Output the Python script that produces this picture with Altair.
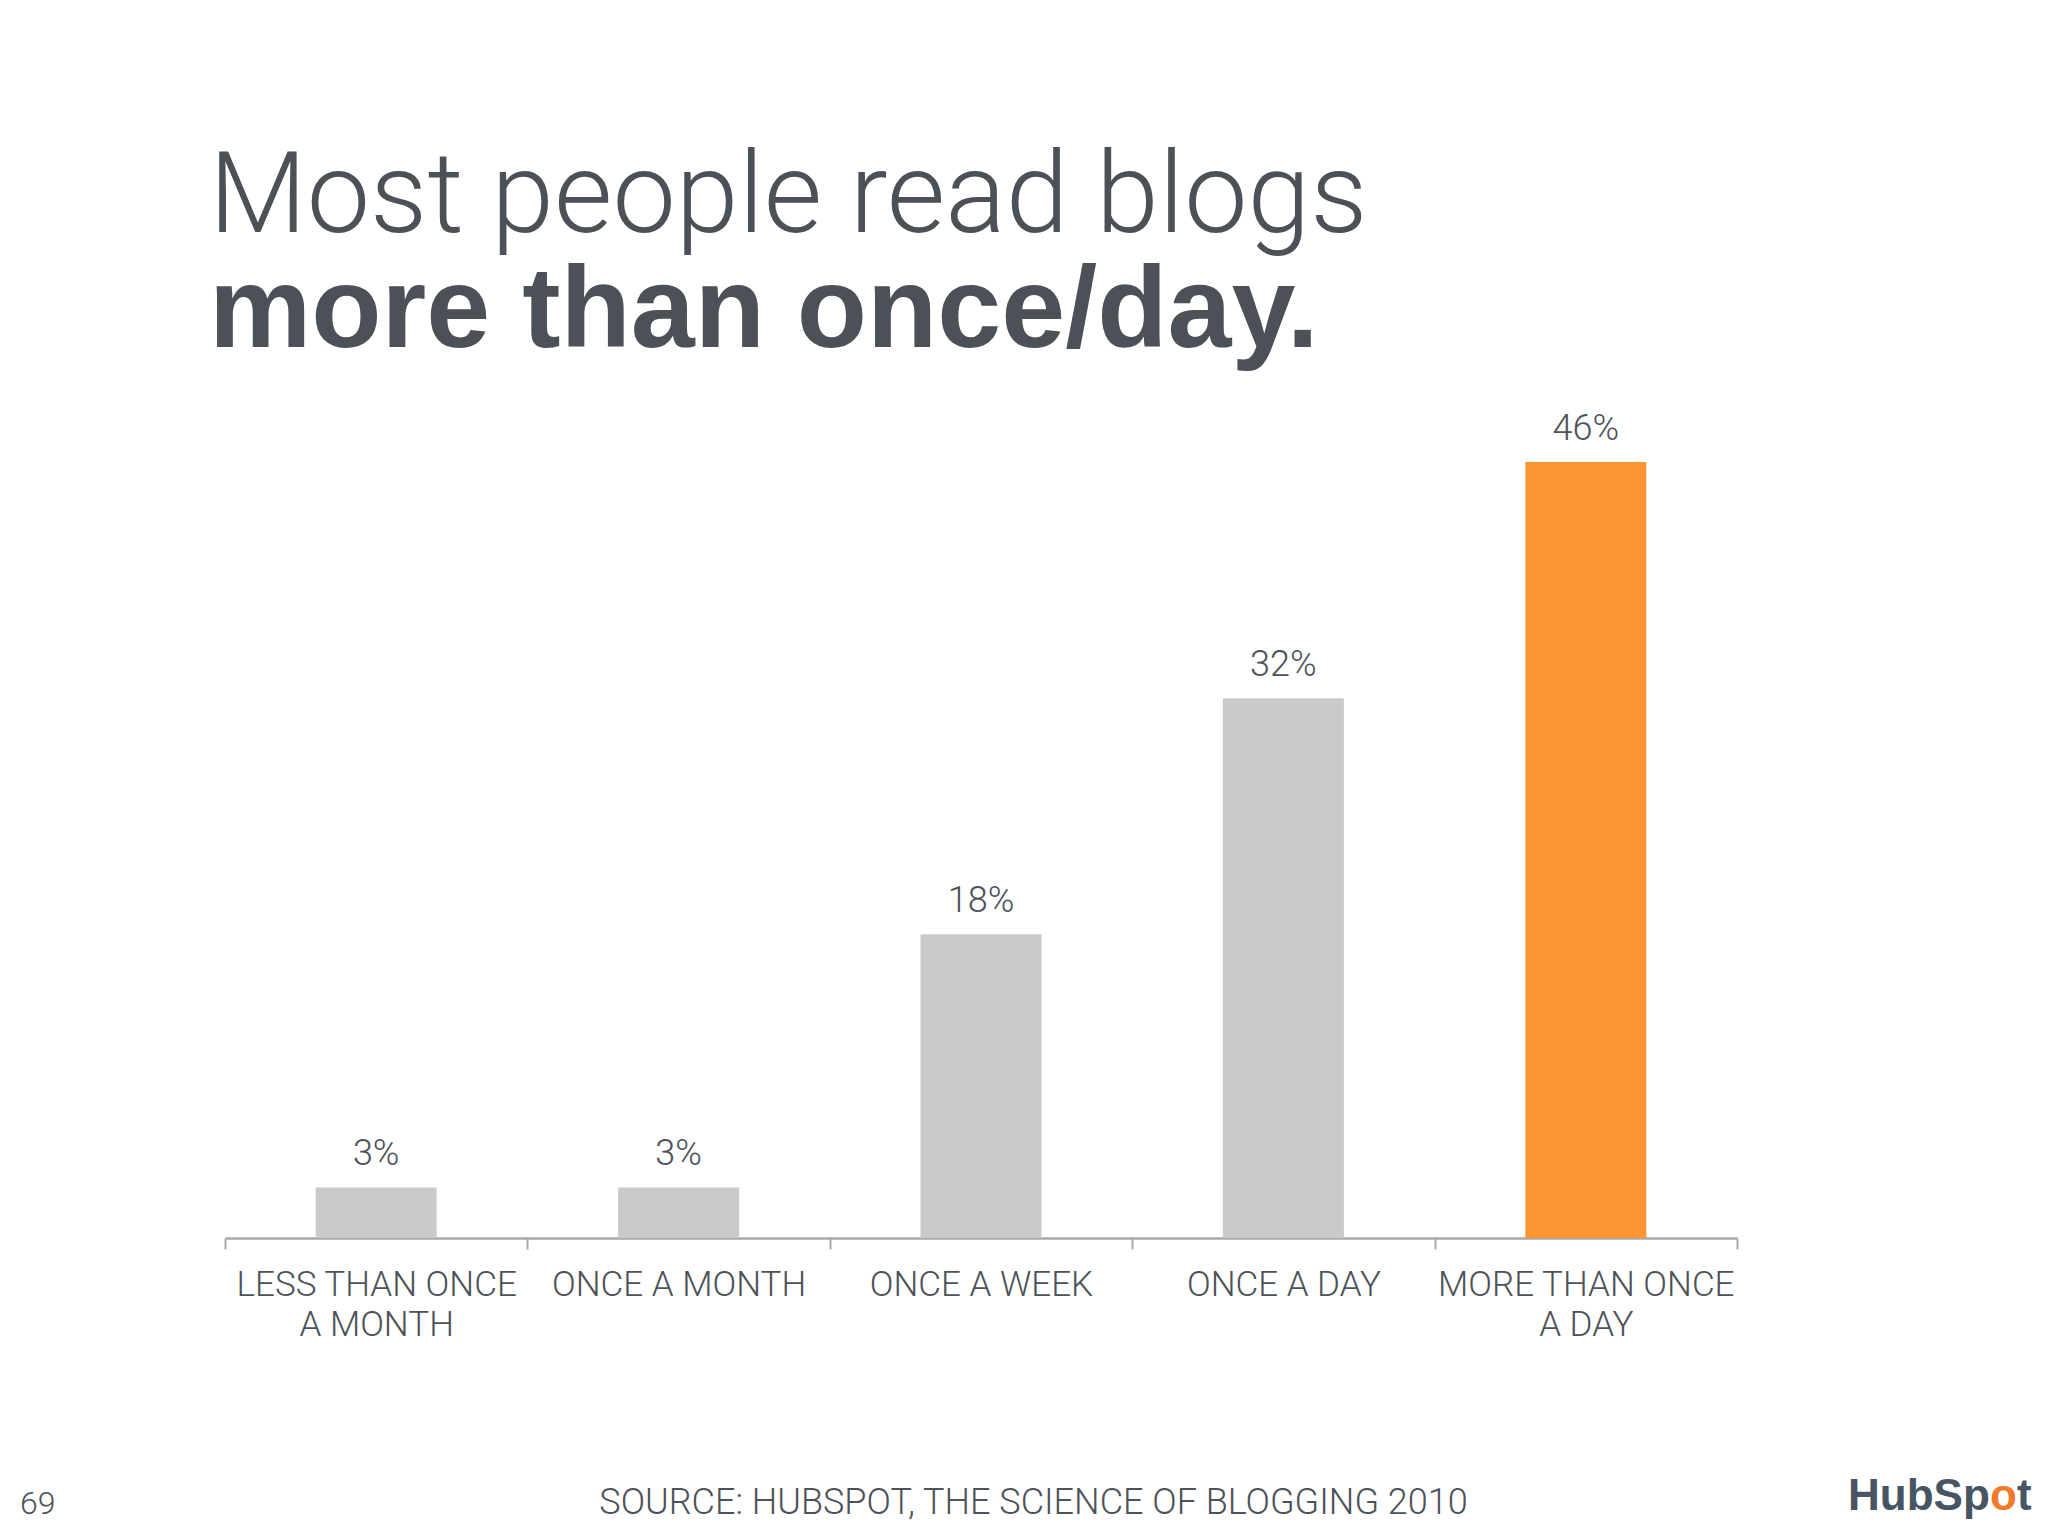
import altair as alt
import pandas as pd

# ---- data ----
categories = ["LESS THAN ONCE\nA MONTH", "ONCE A MONTH", "ONCE A WEEK", "ONCE A DAY", "MORE THAN ONCE\nA DAY"]
shares = [3, 3, 18, 32, 46]
title_line1 = "Most people read blogs"
title_line2 = "more than once/day."
source_note = "SOURCE: HUBSPOT, THE SCIENCE OF BLOGGING 2010"
page_number = ["69"]
logo_parts = ["HubSp", "o", "t"]

TEXT = "#4d5258"
GRAY = "#cacacc"
ORANGE = "#fd9532"
AXIS = "#a9a9ab"
LIGHT = "Roboto"

df = pd.DataFrame({"category": categories, "share": shares})

x = alt.X(
    "category:N",
    sort=categories,
    scale=alt.Scale(paddingInner=0, paddingOuter=0),
    axis=alt.Axis(
        title=source_note,
        titleFont=LIGHT, titleFontSize=36, titleFontWeight=300, titleColor=TEXT,
        titleX=808, titleY=275, titleAlign="center", titleBaseline="alphabetic",
        titleLimit=2000,
        labelExpr="split(datum.label, '\\n')",
        labelFont=LIGHT, labelFontSize=35, labelFontWeight=300, labelColor=TEXT,
        labelLineHeight=40, labelPadding=18, labelAngle=0, labelLimit=500,
        labelOverlap=False,
        tickBand="extent", tickSize=11, tickWidth=2, tickColor=AXIS,
        domainColor=AXIS, domainWidth=2.5,
    ),
)
y = alt.Y("share:Q", scale=alt.Scale(domain=[0, 46], nice=False, zero=True), axis=None)

base = alt.Chart(df)

bars = base.mark_bar(width=alt.RelativeBandSize(0.4)).encode(
    x=x,
    y=y,
    color=alt.Color("category:N", sort=categories,
                    scale=alt.Scale(domain=categories, range=[GRAY, GRAY, GRAY, GRAY, ORANGE]),
                    legend=None),
)

values = base.transform_calculate(label="datum.share + '%'").mark_text(
    dy=-22, baseline="alphabetic", font=LIGHT, fontSize=36, fontWeight=300, color=TEXT
).encode(x=x, y=y, text="label:N")

page = alt.Chart(pd.DataFrame({"t": page_number})).mark_text(
    align="left", baseline="alphabetic", font=LIGHT, fontSize=32, fontWeight=300, color=TEXT
).encode(x=alt.value(-205), y=alt.value(1052), text="t:N")

LOGO_FONT = dict(align="left", baseline="alphabetic", font="Liberation Sans", fontSize=44, fontWeight="bold")
logo_a = alt.Chart(pd.DataFrame({"t": [logo_parts[0]]})).mark_text(color="#475461", **LOGO_FONT).encode(
    x=alt.value(1623), y=alt.value(1048), text="t:N")
logo_b = alt.Chart(pd.DataFrame({"t": [logo_parts[1]]})).mark_text(color="#f07b2c", **LOGO_FONT).encode(
    x=alt.value(1765), y=alt.value(1048), text="t:N")
logo_c = alt.Chart(pd.DataFrame({"t": [logo_parts[2]]})).mark_text(color="#475461", **LOGO_FONT).encode(
    x=alt.value(1792), y=alt.value(1048), text="t:N")

chart = alt.layer(bars, values, page, logo_a, logo_b, logo_c).properties(
    width=1512,
    height=776,
    background="white",
    title=alt.TitleParams(
        text=title_line1,
        subtitle=title_line2,
        anchor="start",
        frame="group",
        dx=-16,
        offset=40,
        font=LIGHT, fontSize=113, fontWeight=300, color="#4b5157",
        subtitleFont="Liberation Sans", subtitleFontSize=115, subtitleFontWeight="bold",
        subtitleColor="#4b5157", subtitlePadding=0,
    ),
    autosize=alt.AutoSizeParams(type="none"),
    padding={"left": 217, "top": 454, "right": 300, "bottom": 285},
).configure_view(stroke=None)

chart.save("out.html", embed_options={"renderer": "svg", "actions": False})
